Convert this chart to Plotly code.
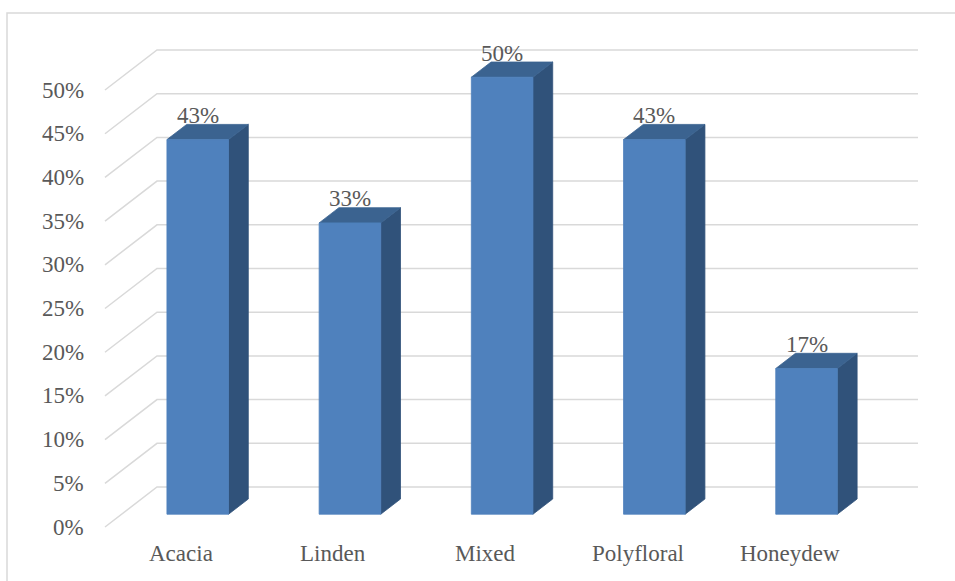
import plotly.graph_objects as go

categories = ["Acacia", "Linden", "Mixed", "Polyfloral", "Honeydew"]
values = [42.86, 33.33, 50.0, 42.86, 16.67]
tick_values = [0, 5, 10, 15, 20, 25, 30, 35, 40, 45, 50]
tick_labels = ["0%", "5%", "10%", "15%", "20%", "25%", "30%", "35%", "40%", "45%", "50%"]

# oblique projection parameters (in axis units)
DX = -0.3417   # full wall depth, x shift (category slots)
DY = -4.58     # full wall depth, y shift (percent units)
D_BACK = 0.30  # bar back plane depth fraction
D_FRONT = 0.68 # bar front plane depth fraction
HALF = 0.2024  # half bar width (slots)

FRONT_C = "#4F81BD"
TOP_C = "#3B6390"
SIDE_C = "#30527A"
GRID_C = "#D9D9D9"
TEXT_C = "#595959"
FONT = "Times New Roman, Liberation Serif, serif"
FS = 23

fig = go.Figure()

def shift(x, y, d):
    return x + DX * d, y + DY * d

for v in tick_values:
    x0, y0 = -0.5, v
    xf, yf = shift(x0, y0, 1.0)
    fig.add_trace(go.Scatter(x=[xf, x0, len(categories) - 0.5], y=[yf, y0, y0],
                             mode="lines", line=dict(color=GRID_C, width=1.5),
                             hoverinfo="skip", showlegend=False))

def poly(xs, ys, color):
    fig.add_trace(go.Scatter(x=xs + [xs[0]], y=ys + [ys[0]], mode="lines",
                             fill="toself", fillcolor=color,
                             line=dict(color=color, width=0.8),
                             hoverinfo="skip", showlegend=False))

annotations = []
for i, (cat, v) in enumerate(zip(categories, values)):
    l, r = i - HALF, i + HALF
    fl0 = shift(l, 0, D_FRONT); fr0 = shift(r, 0, D_FRONT)
    flt = shift(l, v, D_FRONT); frt = shift(r, v, D_FRONT)
    bl_t = shift(l, v, D_BACK); br_t = shift(r, v, D_BACK); br0 = shift(r, 0, D_BACK)
    poly([fr0[0], frt[0], br_t[0], br0[0]], [fr0[1], frt[1], br_t[1], br0[1]], SIDE_C)
    poly([flt[0], frt[0], br_t[0], bl_t[0]], [flt[1], frt[1], br_t[1], bl_t[1]], TOP_C)
    poly([fl0[0], fr0[0], frt[0], flt[0]], [fl0[1], fr0[1], frt[1], flt[1]], FRONT_C)
    annotations.append(dict(x=i + DX * D_FRONT, y=v + DY * D_BACK, text=f"{round(v)}%",
                            showarrow=False, yanchor="middle", yshift=9,
                            font=dict(family=FONT, size=FS, color=TEXT_C)))
    cx, cy = shift(i, 0, 1.0)
    annotations.append(dict(x=cx, y=cy, text=cat, showarrow=False, yanchor="middle",
                            yshift=-26, font=dict(family=FONT, size=FS, color=TEXT_C)))

for v, lab in zip(tick_values, tick_labels):
    tx, ty = shift(-0.5, v, 1.0)
    annotations.append(dict(x=tx, y=ty, text=lab, showarrow=False, xanchor="right",
                            yanchor="middle", xshift=-19,
                            font=dict(family=FONT, size=FS, color=TEXT_C)))

fig.update_layout(
    width=955, height=581,
    margin=dict(l=0, r=0, t=0, b=0),
    paper_bgcolor="white", plot_bgcolor="white",
    font=dict(family=FONT),
    xaxis=dict(range=[-1.5315, 4.743], visible=False, fixedrange=True),
    yaxis=dict(range=[-10.755, 55.72], visible=False, fixedrange=True),
    annotations=annotations,
    shapes=[dict(type="rect", xref="paper", yref="paper",
                 x0=7 / 955, y0=-0.05, x1=1.05, y1=1 - 13 / 581,
                 line=dict(color=GRID_C, width=1.5), layer="below")],
    showlegend=False,
)

fig.write_html("out.html")
